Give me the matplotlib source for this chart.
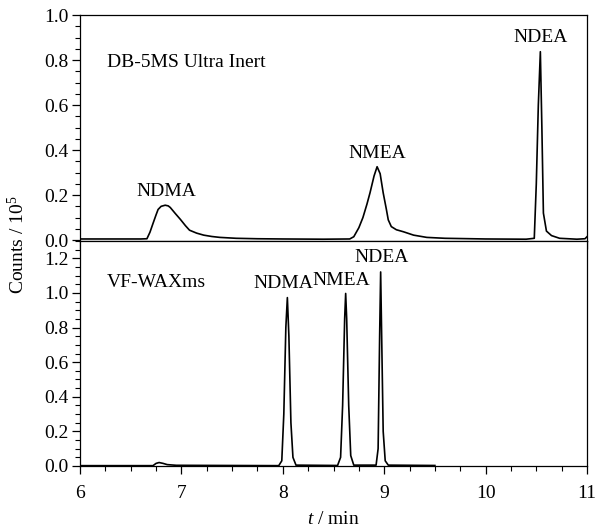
import matplotlib
matplotlib.use("Agg")
import matplotlib.pyplot as plt
from matplotlib.ticker import MultipleLocator, FormatStrFormatter

plt.rcParams['font.family'] = ['Liberation Serif', 'DejaVu Serif']
plt.rcParams['mathtext.fontset'] = 'custom'
plt.rcParams['mathtext.rm'] = 'Liberation Serif'
plt.rcParams['mathtext.it'] = 'Liberation Serif:italic'

# ---- data (time in min, counts in 1e5) ----
t_db5 = [6.00, 6.60, 6.66, 6.69, 6.72, 6.75, 6.77, 6.80, 6.84, 6.87, 6.89, 6.94,
         6.99, 7.04, 7.08, 7.15, 7.22, 7.30, 7.38, 7.54, 7.75, 8.00, 8.40, 8.66,
         8.70, 8.75, 8.79, 8.83, 8.86, 8.90, 8.93, 8.96, 8.99, 9.02, 9.04, 9.07,
         9.12, 9.19, 9.29, 9.42, 9.60, 10.00, 10.40, 10.48, 10.50, 10.52, 10.54,
         10.555, 10.57, 10.60, 10.65, 10.73, 10.90, 10.98, 11.00]
c_db5 = [0.005, 0.005, 0.006, 0.035, 0.074, 0.112, 0.136, 0.150, 0.155, 0.152,
         0.145, 0.118, 0.092, 0.064, 0.044, 0.031, 0.022, 0.016, 0.012, 0.008,
         0.006, 0.005, 0.004, 0.005, 0.015, 0.055, 0.100, 0.160, 0.210, 0.285,
         0.326, 0.295, 0.210, 0.140, 0.090, 0.060, 0.046, 0.037, 0.022, 0.012,
         0.008, 0.005, 0.004, 0.008, 0.250, 0.600, 0.837, 0.500, 0.120, 0.040,
         0.020, 0.008, 0.004, 0.006, 0.015]

t_wax = [6.00, 6.72, 6.75, 6.78, 6.82, 6.86, 6.95, 7.96, 7.99, 8.01, 8.03, 8.045,
         8.06, 8.08, 8.10, 8.13, 8.54, 8.57, 8.59, 8.61, 8.62, 8.63, 8.65, 8.67,
         8.70, 8.92, 8.94, 8.955, 8.965, 8.975, 8.99, 9.01, 9.04, 9.50]
c_wax = [0.002, 0.002, 0.015, 0.020, 0.015, 0.008, 0.004, 0.002, 0.030, 0.300,
         0.800, 0.973, 0.750, 0.250, 0.050, 0.005, 0.003, 0.050, 0.350, 0.850,
         0.997, 0.850, 0.350, 0.060, 0.005, 0.005, 0.100, 0.750, 1.121, 0.750,
         0.200, 0.030, 0.005, 0.003]

top_title = "DB-5MS Ultra Inert"
bottom_title = "VF-WAXms"
top_peaks = ["NDMA", "NMEA", "NDEA"]
top_peak_x = [6.85, 8.93, 10.54]
top_peak_y = [0.215, 0.385, 0.90]
bot_peaks = ["NDMA", "NMEA", "NDEA"]
bot_peak_x = [8.01, 8.58, 8.97]
bot_peak_y = [1.054, 1.069, 1.204]

FS = 14

fig = plt.figure(figsize=(5.95, 5.27), dpi=100)
L, R = 80 / 595, 587 / 595
ax1 = fig.add_axes([L, 1 - 241 / 527, R - L, (241 - 15) / 527])
ax2 = fig.add_axes([L, 1 - 466 / 527, R - L, (466 - 241) / 527], sharex=ax1)

ax1.plot(t_db5, c_db5, color='black', lw=1.2)
ax2.plot(t_wax, c_wax, color='black', lw=1.2)

ax1.set_xlim(6, 11)
ax1.set_ylim(-0.004, 1.0)
ax2.set_ylim(0, 1.3)

for ax in (ax1, ax2):
    ax.xaxis.set_major_locator(MultipleLocator(1))
    ax.xaxis.set_minor_locator(MultipleLocator(0.25))
    ax.yaxis.set_major_locator(MultipleLocator(0.2))
    ax.yaxis.set_minor_locator(MultipleLocator(0.05))
    ax.yaxis.set_major_formatter(FormatStrFormatter('%.1f'))
    ax.tick_params(which='major', direction='out', length=6, width=0.9,
                   labelsize=FS, pad=2)
    ax.tick_params(which='minor', direction='out', length=3.5, width=0.8)
    ax.tick_params(top=False, right=False)
    for s in ax.spines.values():
        s.set_linewidth(0.9)

ax1.tick_params(labelbottom=False)
ax2.tick_params(axis='x', which='major', pad=8)
ax2.set_yticks([0, 0.2, 0.4, 0.6, 0.8, 1.0, 1.2])

ax1.text(6.27, 0.787, top_title, fontsize=FS, ha='left', va='center')
ax2.text(6.26, 1.063, bottom_title, fontsize=FS, ha='left', va='center')
for name, x, y in zip(top_peaks, top_peak_x, top_peak_y):
    ax1.text(x, y, name, fontsize=FS, ha='center', va='center')
for name, x, y in zip(bot_peaks, bot_peak_x, bot_peak_y):
    ax2.text(x, y, name, fontsize=FS, ha='center', va='center')

ax2.set_xlabel(r'$t$ / min', fontsize=FS, labelpad=6)
fig.text(0.030, 1 - 245 / 527, r'Counts / 10$^5$', rotation=90,
         fontsize=FS, ha='center', va='center')

fig.savefig("out.png", dpi=100)
